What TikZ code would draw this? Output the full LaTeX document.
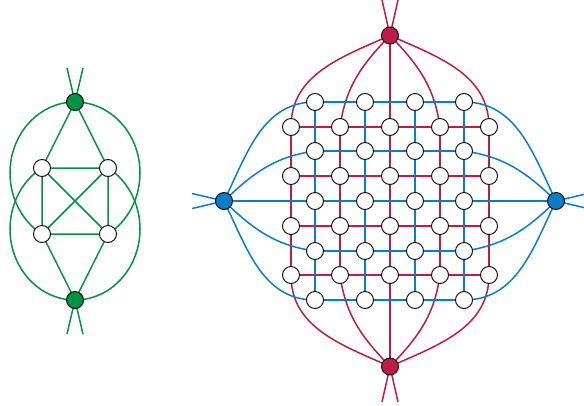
\documentclass[tikz,border=0pt]{standalone}
\usetikzlibrary{backgrounds}
\definecolor{gG}{HTML}{009245}
\definecolor{rR}{HTML}{BE1B48}
\definecolor{bB}{HTML}{0A7DC8}
\begin{document}
\begin{tikzpicture}[x=1pt,y=1pt,
  vert/.style={circle,draw=black,line width=0.9pt,inner sep=0pt,minimum size=17pt},
  wvert/.style={vert,fill=white},
  gedge/.style={draw=gG,line width=1.5pt},
  redge/.style={draw=rR,line width=1.5pt},
  bedge/.style={draw=bB,line width=1.5pt}]
\useasboundingbox (0,0) rectangle (584,-405);
% ---------- left graph ----------
\node[vert,fill=gG] (gt) at (75,-102) {};
\node[vert,fill=gG] (gb) at (75,-300) {};
\node[wvert] (a) at (42,-168) {};
\node[wvert] (b) at (108,-168) {};
\node[wvert] (c) at (42,-234) {};
\node[wvert] (d) at (108,-234) {};
\coordinate (gt1) at (67,-68);
\coordinate (gt2) at (83,-68);
\coordinate (gb1) at (67,-334);
\coordinate (gb2) at (83,-334);
% ---------- right graph ----------
\foreach \i/\x in {1/291,2/340,3/390,4/440,5/489}{
  \foreach \j/\y in {1/127,2/176,3/226,4/275}{
    \node[wvert] (r\i\j) at (\x,-\y) {};
  }}
\foreach \i/\x in {1/315,2/365,3/415,4/464}{
  \foreach \j/\y in {1/102,2/151,3/201,4/251,5/300}{
    \node[wvert] (b\i\j) at (\x,-\y) {};
  }}
\node[vert,fill=rR] (RT) at (390,-35.5) {};
\node[vert,fill=rR] (RB) at (390,-366.5) {};
\node[vert,fill=bB] (BL) at (224,-201) {};
\node[vert,fill=bB] (BR) at (556,-201) {};
\coordinate (rt1) at (382,0);
\coordinate (rt2) at (398,0);
\coordinate (rb1) at (382,-402);
\coordinate (rb2) at (398,-402);
\coordinate (bl1) at (192,-193.5);
\coordinate (bl2) at (192,-208.5);
\coordinate (br1) at (584,-194.4);
\coordinate (br2) at (584,-207.6);
\begin{pgfonlayer}{background}
% left graph edges
\path[gedge] (gt.center) -- (gt1) (gt.center) -- (gt2)
  (gb.center) -- (gb1) (gb.center) -- (gb2);
\path[gedge] (gt.center) -- (a.center) (gt.center) -- (b.center)
  (gb.center) -- (c.center) (gb.center) -- (d.center)
  (a.center) -- (b.center) (a.center) -- (c.center)
  (b.center) -- (d.center) (c.center) -- (d.center)
  (a.center) -- (d.center) (b.center) -- (c.center);
\path[gedge] (gt.center) arc[start angle=90,end angle=239.5,x radius=65,y radius=71];
\path[gedge] (gt.center) arc[start angle=90,end angle=-59.5,x radius=65,y radius=71];
\path[gedge] (gb.center) arc[start angle=270,end angle=120.5,x radius=65,y radius=71];
\path[gedge] (gb.center) arc[start angle=270,end angle=419.5,x radius=65,y radius=71];
% red grid
\foreach \j in {1,...,4}{
  \path[redge] (r1\j.center) -- (r2\j.center) -- (r3\j.center) -- (r4\j.center) -- (r5\j.center);}
\foreach \i in {1,...,5}{
  \path[redge] (r\i1.center) -- (r\i2.center) -- (r\i3.center) -- (r\i4.center);}
\path[redge] (RT.center) -- (rt1) (RT.center) -- (rt2)
  (RB.center) -- (rb1) (RB.center) -- (rb2);
\path[redge] (RT.center) -- (r31.center) (RB.center) -- (r34.center);
\path[redge] (RT.center) to[out=204,in=90] (r11.center);
\path[redge] (RT.center) to[out=226,in=82] (r21.center);
\path[redge] (RT.center) to[out=314,in=98] (r41.center);
\path[redge] (RT.center) to[out=336,in=90] (r51.center);
\path[redge] (RB.center) to[out=156,in=270] (r14.center);
\path[redge] (RB.center) to[out=134,in=278] (r24.center);
\path[redge] (RB.center) to[out=46,in=262] (r44.center);
\path[redge] (RB.center) to[out=24,in=270] (r54.center);
% blue grid
\foreach \j in {1,...,5}{
  \path[bedge] (b1\j.center) -- (b2\j.center) -- (b3\j.center) -- (b4\j.center);}
\foreach \i in {1,...,4}{
  \path[bedge] (b\i1.center) -- (b\i2.center) -- (b\i3.center) -- (b\i4.center) -- (b\i5.center);}
\path[bedge] (BL.center) -- (bl1) (BL.center) -- (bl2)
  (BR.center) -- (br1) (BR.center) -- (br2);
\path[bedge] (BL.center) -- (b13.center) (BR.center) -- (b43.center);
\path[bedge] (BL.center) to[out=64,in=180] (b11.center);
\path[bedge] (BL.center) to[out=44,in=188] (b12.center);
\path[bedge] (BL.center) to[out=-44,in=172] (b14.center);
\path[bedge] (BL.center) to[out=-64,in=180] (b15.center);
\path[bedge] (BR.center) to[out=116,in=0] (b41.center);
\path[bedge] (BR.center) to[out=136,in=-8] (b42.center);
\path[bedge] (BR.center) to[out=224,in=8] (b44.center);
\path[bedge] (BR.center) to[out=244,in=0] (b45.center);
\end{pgfonlayer}
\end{tikzpicture}
\end{document}
